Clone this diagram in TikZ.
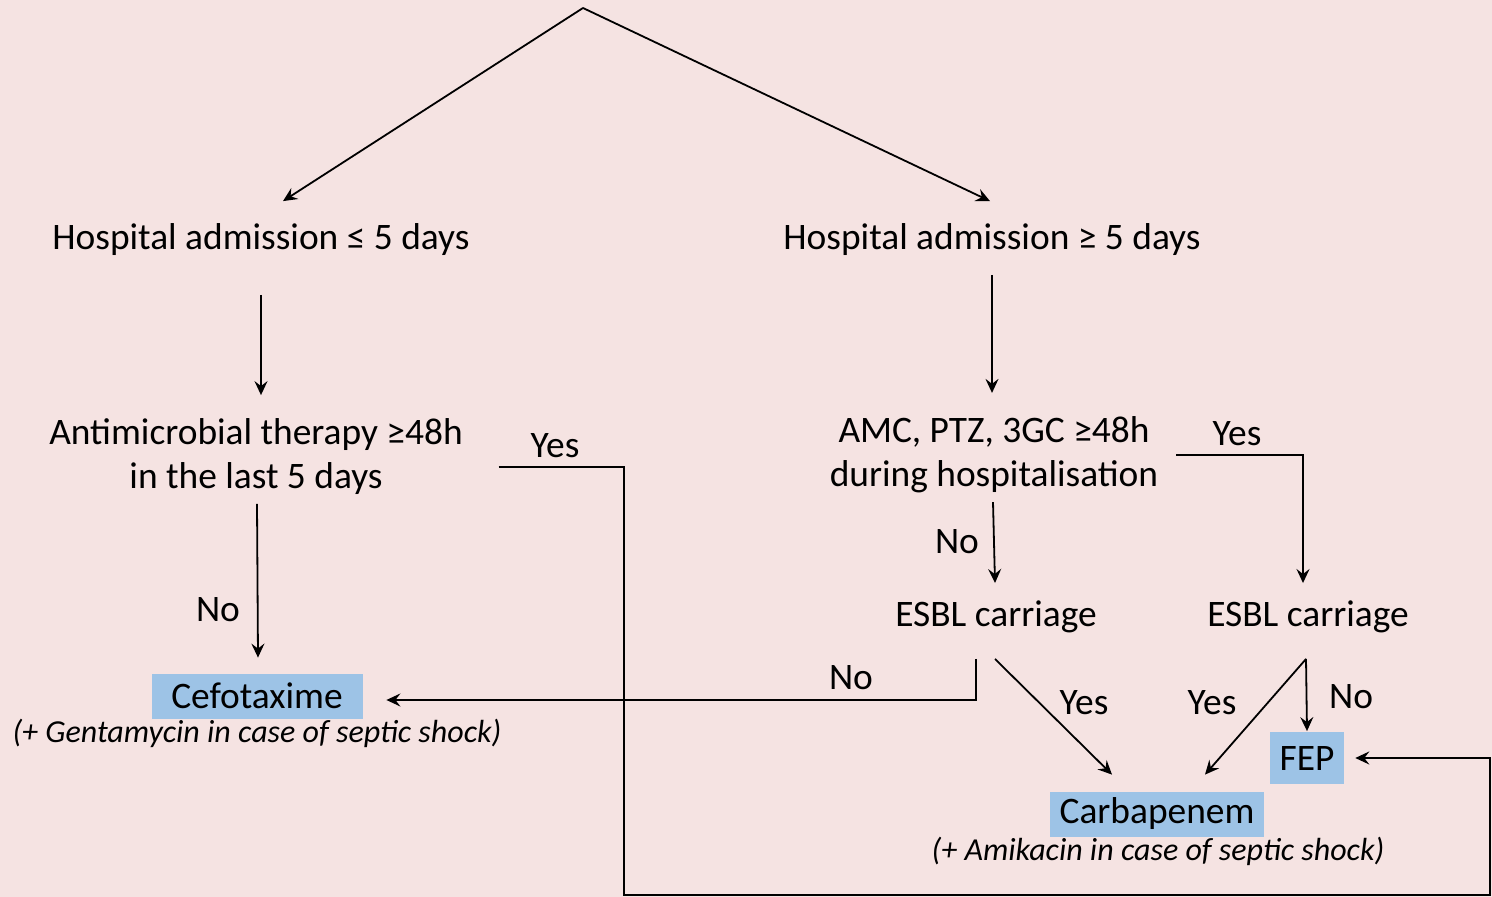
\documentclass[tikz,border=0pt]{standalone}
\usepackage{fontspec}
\setmainfont{Carlito}
\usetikzlibrary{arrows.meta}
\definecolor{bgpink}{RGB}{245,227,226}
\definecolor{drugblue}{RGB}{157,195,230}

\begin{document}
\begin{tikzpicture}[x=0.5pt,y=-0.5pt,line width=0.9pt,
        >={Stealth[length=7pt,width=6.5pt,inset=2.5pt]},
        every node/.style={font=\fontsize{18.7}{22}\selectfont,inner sep=0pt},
        crit/.style={align=center},
        drug/.style={fill=drugblue,minimum height=22.5pt,inner xsep=5pt},
        note/.style={font=\fontsize{16}{20}\selectfont\itshape}]
        \fill[bgpink] (0,0) rectangle (1492,897);
        \coordinate (top) at (583,8);
        \node (short) at (261,240) {Hospital admission ≤ 5 days};
        \node (long) at (992,240) {Hospital admission ≥ 5 days};
        \node[crit] (abx) at (256,457) {Antimicrobial therapy ≥48h\\in the last 5 days};
        \node[crit] (amc) at (994,455) {AMC, PTZ, 3GC ≥48h\\during hospitalisation};
        \node (esblA) at (996,617) {ESBL carriage};
        \node (esblB) at (1308,617) {ESBL carriage};
        \node[drug,minimum width=105.5pt] (cefo) at (257,696) {Cefotaxime};
        \node[note] (gent) at (257,733) {(+ Gentamycin in case of septic shock)};
        \node[drug,minimum height=26pt] (fep) at (1307,758) {FEP};
        \node[drug] (carba) at (1157,814) {Carbapenem};
        \node[note] (amik) at (1158,851) {(+ Amikacin in case of septic shock)};
        % answers
        \node (yesAbx) at (555,446) {Yes};
        \node (noAbx) at (218,610) {No};
        \node (yesAmc) at (1237,434) {Yes};
        \node (noAmc) at (957,542) {No};
        \node (noEsblA) at (851,678) {No};
        \node (yesEsblA) at (1084,703) {Yes};
        \node (yesEsblB) at (1212,703) {Yes};
        \node (noEsblB) at (1351,697) {No};
        \coordinate (loopL) at (624,895);
        \coordinate (loopR) at (1490,895);
        % connectors
        \draw[->] (top) -- ([shift={(22,-22)}]short.north);
        \draw[->] (top) -- ([shift={(-2,-22)}]long.north);
        \draw[->] ([yshift=-19pt]short.south) -- ([shift={(5,-23)}]abx.north);
        \draw[->] ([yshift=-9pt]long.south) -- ([shift={(-2,-23)}]amc.north);
        \draw[->] ([shift={(1,8)}]abx.south) -- ([shift={(1,-15)}]cefo.north);
        \draw[->] ([shift={(-1,8)}]amc.south) -- ([shift={(-1,-17)}]esblA.north);
        \draw[->] ([shift={(35,10)}]abx.east) -| (loopL) -- (loopR) |- ([xshift=5pt]fep.east);
        \draw[->] ([shift={(17,0)}]amc.east) -| ([shift={(-5,-17)}]esblB.north);
        \draw[->] ([shift={(-20,25)}]esblA.south) |- ([shift={(23,4)}]cefo.east);
        \draw[->] ([shift={(-1,25)}]esblA.south) -- ([shift={(-45,-16)}]carba.north);
        \draw[->] ([shift={(-2,25)}]esblB.south) -- ([shift={(48,-16)}]carba.north);
        \draw[->] ([shift={(-2,25)}]esblB.south) -- (fep.north);
    \end{tikzpicture}
\end{document}
